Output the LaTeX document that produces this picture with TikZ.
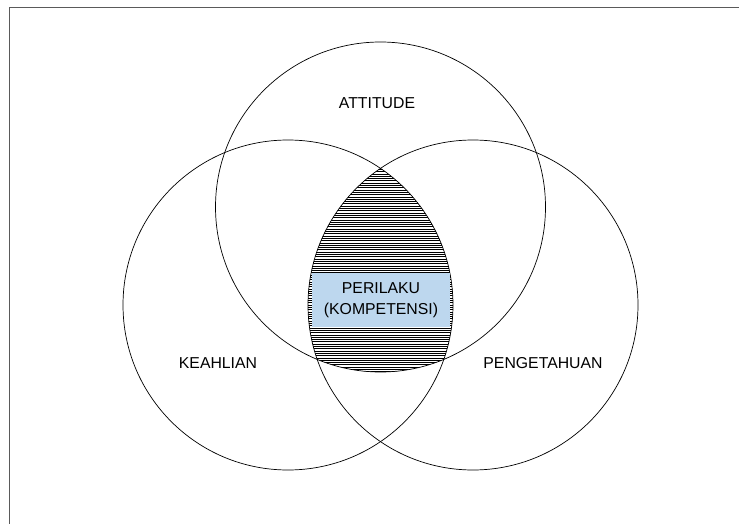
\documentclass[tikz,border=0pt]{standalone}
\usepackage{xcolor}
\usepackage{fontspec}
\setmainfont{Liberation Sans}
\definecolor{boxblue}{RGB}{189,215,238}
\definecolor{framegray}{RGB}{90,90,90}

\begin{document}
\begin{tikzpicture}[x=1pt,y=-1pt]
\tikzstyle{every node}+=[inner sep=0pt]
\tikzstyle{ring}=[draw=black,circle,minimum size=330pt,line width=0.7pt]
\tikzstyle{lbl}=[font=\fontsize{15.8}{21}\selectfont,align=center]
\useasboundingbox (0,0) rectangle (739,524);
\draw [framegray,line width=1.5pt] (9.5,524) |- (739,7.5);
% the three sets
\node [ring] (att) at (380.5,207) {};
\node [ring] (kea) at (288,305) {};
\node [ring] (pen) at (473,305) {};
% shaded common part
\begin{scope}
\clip (att.center) circle [radius=165pt];
\clip (kea.center) circle [radius=165pt];
\clip (pen.center) circle [radius=165pt];
\foreach \y in {160,162.3,...,380}
  \draw [black,line width=0.6pt] (200,\y) -- (560,\y);
\end{scope}
\node [lbl,fill=boxblue,minimum width=138pt,minimum height=54pt] (per) at (381,300) {PERILAKU\\(KOMPETENSI)};
\node [lbl] (lblatt) at (377,103) {ATTITUDE};
\node [lbl] (lblkea) at (218,363) {KEAHLIAN};
\node [lbl] (lblpen) at (543,363) {PENGETAHUAN};
\end{tikzpicture}
\end{document}
